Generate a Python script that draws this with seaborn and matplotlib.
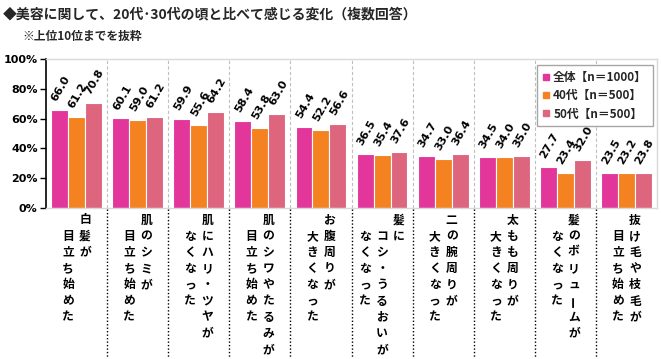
import numpy as np
import pandas as pd
import matplotlib
matplotlib.use("Agg")
import matplotlib.pyplot as plt
import matplotlib.transforms as mtransforms
from matplotlib.lines import Line2D
import seaborn as sns

# ---------------- data ----------------
categories = [
    "白髪が目立ち始めた", "肌のシミが目立ち始めた", "肌にハリ・ツヤがなくなった",
    "肌のシワやたるみが目立ち始めた", "お腹周りが大きくなった",
    "髪にコシ・うるおいがなくなった", "二の腕周りが大きくなった",
    "太もも周りが大きくなった", "髪のボリュームがなくなった", "抜け毛や枝毛が目立ち始めた",
]
label_columns = [
    ["白髪が", "目立ち始めた"],
    ["肌のシミが", "目立ち始めた"],
    ["肌にハリ・ツヤが", "なくなった"],
    ["肌のシワやたるみが", "目立ち始めた"],
    ["お腹周りが", "大きくなった"],
    ["髪に", "コシ・うるおいが", "なくなった"],
    ["二の腕周りが", "大きくなった"],
    ["太もも周りが", "大きくなった"],
    ["髪のボリュームが", "なくなった"],
    ["抜け毛や枝毛が", "目立ち始めた"],
]
groups = ["全体【n＝1000】", "40代【n＝500】", "50代【n＝500】"]
total = [66.0, 60.1, 59.9, 58.4, 54.4, 36.5, 34.7, 34.5, 27.7, 23.5]
age40 = [61.2, 59.0, 55.6, 53.8, 52.2, 35.4, 33.0, 34.0, 23.4, 23.2]
age50 = [70.8, 61.2, 64.2, 63.0, 56.6, 37.6, 36.4, 35.0, 32.0, 23.8]
colors = ["#E2369A", "#F58220", "#DD667E"]
yticks = [0, 20, 40, 60, 80, 100]
ytick_labels = [f"{t}%" for t in yticks]
title = "◆美容に関して、20代･30代の頃と比べて感じる変化（複数回答）"
subtitle = "※上位10位までを抜粋"

# ---------------- style ----------------
sns.set_theme(style="white")
plt.rcParams["font.family"] = ["Noto Sans CJK JP", "DejaVu Sans"]

df = pd.DataFrame({
    "category": categories * 3,
    "group": np.repeat(groups, len(categories)),
    "value": total + age40 + age50,
})

W, H = 661, 359
fig = plt.figure(figsize=(W / 100, H / 100), dpi=100)
fig.patch.set_facecolor("white")
ax = fig.add_axes([46 / W, 1 - 208 / H, 611 / W, 149 / H])

sns.barplot(data=df, x="category", y="value", hue="group", palette=colors,
            width=0.83, edgecolor="white", linewidth=0.8, saturation=1,
            errorbar=None, ax=ax, zorder=2)

# value labels
for container, vals in zip(ax.containers, [total, age40, age50]):
    for bar, v in zip(container, vals):
        ax.annotate(f"{v:.1f}", (bar.get_x() + bar.get_width() / 2, bar.get_height()),
                    xytext=(1, 5), textcoords="offset points", rotation=60,
                    ha="center", va="bottom", fontsize=8, fontweight="bold",
                    color="black", family="DejaVu Sans", annotation_clip=False)

ax.set_xlim(-0.5, len(categories) - 0.5)
ax.set_ylim(0, 100)
ax.set_yticks(yticks)
ax.set_yticklabels(ytick_labels, fontsize=8, fontweight="bold", color="black",
                   family="DejaVu Sans")
ax.set_xticks(range(len(categories)))
ax.set_xticklabels([])
ax.tick_params(axis="x", bottom=False, length=0)
ax.tick_params(axis="y", left=True, length=4, width=1, color="black", direction="out", pad=2)
ax.set_xlabel("")
ax.set_ylabel("")

for s in ["top", "right", "bottom"]:
    ax.spines[s].set_color("#D9D9D9")
    ax.spines[s].set_linewidth(1)
ax.spines["left"].set_color("black")
ax.spines["left"].set_linewidth(1.2)

# category separators in plot area
for i in range(len(categories) - 1):
    ax.axvline(i + 0.5, color="#BFBFBF", ls=(0, (3, 2)), lw=0.8, zorder=0)

# dotted separators in label area and vertical labels
tr = mtransforms.blended_transform_factory(ax.transData, fig.transFigure)
for i in range(len(categories) - 1):
    fig.add_artist(Line2D([i + 0.5, i + 0.5], [1 - 209 / H, 1 - 357 / H], transform=tr,
                          color="black", ls=(0, (1, 1.5)), lw=1))

col_px = 17
row_px = 16.2
row0 = 220
for i, cols in enumerate(label_columns):
    n = len(cols)
    for c, text in enumerate(cols):
        dx = ((n - 1) / 2 - c) * col_px
        start = 0 if c == 0 else 1
        t = tr + mtransforms.ScaledTranslation(dx / 100, 0, fig.dpi_scale_trans)
        for r, ch in enumerate(text):
            y = row0 + (start + r) * row_px
            rot = 90 if ch == "ー" else 0
            fig.text(i, 1 - y / H, ch, transform=t, ha="center", va="center",
                     fontsize=8.5, fontweight="bold", color="black", rotation=rot)

# legend
handles = [Line2D([], [], marker="s", ls="", color=c, markersize=5) for c in colors]
leg = ax.legend(handles=handles, labels=groups, loc="upper right",
                bbox_to_anchor=(653 / W, 1 - 65 / H), bbox_transform=fig.transFigure,
                frameon=True, fancybox=False, edgecolor="#A6A6A6", framealpha=1,
                prop=dict(size=8.5, weight="bold"), handlelength=0.6,
                handletextpad=0.3, labelspacing=0.45, borderpad=0.5, borderaxespad=0)
leg.get_frame().set_linewidth(1)
leg.set_zorder(5)

# titles
fig.text(3 / W, 1 - 14 / H, title, fontsize=10, fontweight="bold", va="center", ha="left")
fig.text(22 / W, 1 - 36 / H, subtitle, fontsize=8.5, fontweight="bold", va="center", ha="left")

fig.savefig("out.png", dpi=100)
